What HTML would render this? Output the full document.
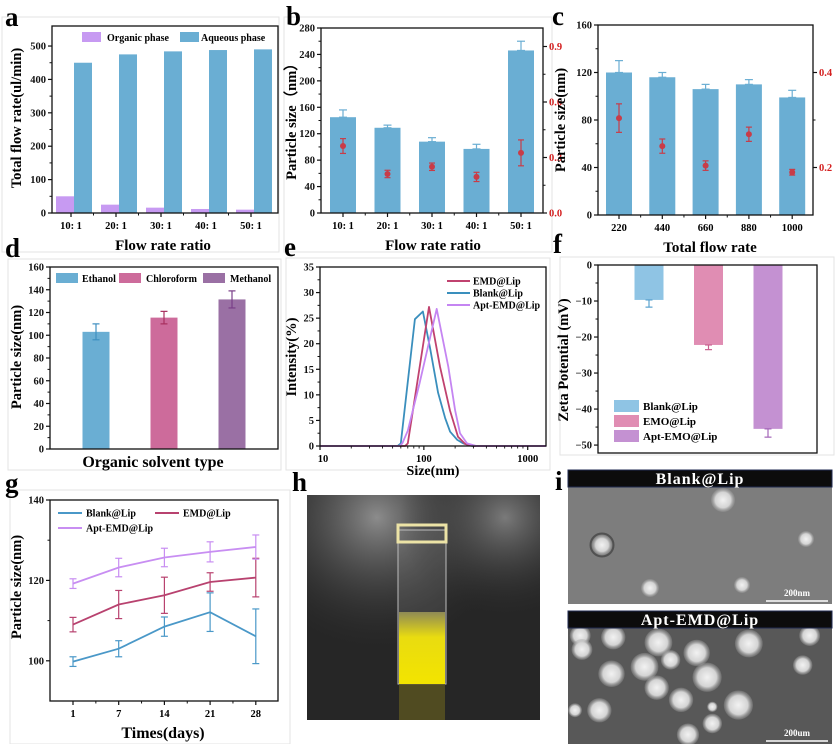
<!DOCTYPE html>
<html><head><meta charset="utf-8">
<style>
html,body{margin:0;padding:0;background:#fff;}
svg{display:block;}
.t{font-family:"Liberation Serif",serif;font-weight:bold;}
</style></head>
<body>
<svg id="fig" width="835" height="744" viewBox="0 0 835 744" xmlns="http://www.w3.org/2000/svg">
<defs>
<radialGradient id="pg" cx="50%" cy="50%" r="50%"><stop offset="0" stop-color="#f2f2f2"/><stop offset="0.65" stop-color="#d4d4d4"/><stop offset="1" stop-color="#a0a0a0" stop-opacity="0.3"/></radialGradient>
<radialGradient id="bgl" cx="30%" cy="10%" r="60%"><stop offset="0" stop-color="#8c8c8c"/><stop offset="1" stop-color="#2a2a2a" stop-opacity="0"/></radialGradient>
<radialGradient id="bgr" cx="85%" cy="10%" r="45%"><stop offset="0" stop-color="#7a7a7a"/><stop offset="1" stop-color="#2a2a2a" stop-opacity="0"/></radialGradient>
<linearGradient id="liq" x1="0" y1="0" x2="0" y2="1"><stop offset="0" stop-color="#8f8a55"/><stop offset="0.35" stop-color="#e9dc10"/><stop offset="1" stop-color="#f3e400"/></linearGradient>
</defs>
</svg>
<script>
// ---------- data ----------
const aCats=['10: 1','20: 1','30: 1','40: 1','50: 1'];
const aOrganic=[50,25,16,12,10];
const aAqueous=[450,475,484,488,490];
const aTicks=[0,100,200,300,400,500];

const bCats=['10: 1','20: 1','30: 1','40: 1','50: 1'];
const bSize=[145,129,108,97,246];
const bSizeErr=[11,4,6,7,14];
const bPdi=[0.362,0.211,0.25,0.195,0.325];
const bPdiErr=[0.04,0.02,0.02,0.025,0.07];
const bTicks=[0,40,80,120,160,200,240,280];
const bRTicks=[0,0.3,0.6,0.9];

const cCats=['220','440','660','880','1000'];
const cSize=[120,116,106,110,99];
const cSizeErr=[10,4,4,4,6];
const cPdi=[0.304,0.245,0.204,0.27,0.19];
const cPdiErr=[0.03,0.015,0.01,0.015,0.006];
const cTicks=[0,40,80,120,160];
const cRTicks=[0.2,0.4];

const dCats=['Ethanol','Chloroform','Methanol'];
const dVals=[103,115.5,131.5];
const dErr=[7,5.5,7.5];
const dTicks=[0,20,40,60,80,100,120,140,160];

const eBlankSize=[10,56,60,82,98,115,137,160,179,210,239,290,1500];
const eBlankInt=[0,0,0.5,24.8,26.3,19,10.4,5.5,2.8,1.2,0.5,0,0];
const eEmdSize=[10,66,70,112,143,178,213,250,300,1500];
const eEmdInt=[0,0,0.5,27.2,15.5,7,1.8,0.4,0,0];
const eAptSize=[10,58,62,70,91,133,172,200,223,260,320,1500];
const eAptInt=[0,0,0.5,3,12.3,26.8,15.5,7,2.5,0.5,0,0];
const eXTicks=[10,100,1000];
const eYTicks=[0,5,10,15,20,25,30,35];

const fCats=['Blank@Lip','EMO@Lip','Apt-EMO@Lip'];
const fVals=[-9.7,-22.2,-45.5];
const fErr=[2,1.3,2.3];
const fTicks=[0,-10,-20,-30,-40,-50];

const gDays=['1','7','14','21','28'];
const gBlank=[99.8,103,108.5,112.1,106.1];
const gBlankErr=[1.2,2,2.4,4.8,6.8];
const gEmd=[109,114,116.3,119.6,120.7];
const gEmdErr=[1.8,3.5,4.5,2.3,4.8];
const gApt=[119.2,123.2,125.7,127.1,128.3];
const gAptErr=[1.2,2.3,2.3,2.5,3];
const gTicks=[100,120,140];

// ---------- helpers ----------
const NS='http://www.w3.org/2000/svg';
const svg=document.getElementById('fig');
function mk(tag,attrs,parent){const e=document.createElementNS(NS,tag);for(const k in attrs)e.setAttribute(k,attrs[k]);(parent||svg).appendChild(e);return e;}
function txt(x,y,s,attrs){const e=mk('text',Object.assign({x:x,y:y,'class':'t'},attrs||{}));e.textContent=s;return e;}
function lin(d0,d1,r0,r1){return v=>r0+(v-d0)/(d1-d0)*(r1-r0);}
function frame(x0,y0,x1,y1,name){
  const r=mk('rect',{x:x0,y:y0,width:x1-x0,height:y1-y0,fill:'none',stroke:'#111','stroke-width':1.3});
  
  
}
function box(x0,y0,x1,y1,name){
  const r=mk('rect',{x:x0,y:y0,width:x1-x0,height:y1-y0,fill:'none',stroke:'#e3e3e3','stroke-width':1});
  
  
}
function yAxis(x,scale,ticks,fmt,side,color,name){
  const dir=side==='left'?-1:1;
  ticks.forEach((v,i)=>{
    const y=scale(v);
    mk('line',{x1:x,x2:x+dir*4,y1:y,y2:y,stroke:'#111','stroke-width':1.2});
    if(i<ticks.length-1){const ym=(y+scale(ticks[i+1]))/2;mk('line',{x1:x,x2:x+dir*2.5,y1:ym,y2:ym,stroke:'#111','stroke-width':1});}
    const t=txt(x+dir*6,y+3.5,fmt(v),{'font-size':10.5,fill:color,'text-anchor':side==='left'?'end':'start'});
    
    
  });
}
function xCat(y,xs,labels,name,size){
  xs.forEach((x,i)=>{
    mk('line',{x1:x,x2:x,y1:y,y2:y+4,stroke:'#111','stroke-width':1.2});
    if(i<xs.length-1){const xm=(x+xs[i+1])/2;mk('line',{x1:xm,x2:xm,y1:y,y2:y+2.5,stroke:'#111','stroke-width':1});}
    const t=txt(x,y+16,labels[i],{'font-size':size||10.5,'text-anchor':'middle'});
    
    
  });
}
function ylabel(x,y,s,name,size){
  const t=txt(x,y,s,{'font-size':size||14,'text-anchor':'middle',transform:'rotate(-90 '+x+' '+y+')'});
  
  
}
function xlabel(x,y,s,name,size){
  const t=txt(x,y,s,{'font-size':size||15,'text-anchor':'middle'});
  
  
}
function letter(x,y,s){
  const t=txt(x,y,s,{'font-size':27});
  
  
}
function errbar(x,y0,y1,color,w){
  mk('line',{x1:x,x2:x,y1:y0,y2:y1,stroke:color,'stroke-width':1.2});
  mk('line',{x1:x-w/2,x2:x+w/2,y1:y0,y2:y0,stroke:color,'stroke-width':1.2});
  mk('line',{x1:x-w/2,x2:x+w/2,y1:y1,y2:y1,stroke:color,'stroke-width':1.2});
}

// panel boxes
box(2,17,279,252,'panel-a-box');box(284,17,552,252,'panel-b-box');
box(8,259,281,470,'panel-d-box');box(286,258,550,470,'panel-e-box');
box(560,257,834,455,'panel-f-box');box(10,490,290,744,'panel-g-box');

// ---------- panel a ----------
letter(5,26,'a');
const ya=lin(0,560,213,26);
aCats.forEach((c,i)=>{
  const g=74+45*i;
  const o=mk('rect',{x:g-18,y:ya(aOrganic[i]),width:18,height:213-ya(aOrganic[i]),fill:'#c79af2'});
  
  
  const q=mk('rect',{x:g,y:ya(aAqueous[i]),width:18,height:213-ya(aAqueous[i]),fill:'#6aaed3'});
  
  
});
frame(52,26,278,213,'panel-a-frame');
yAxis(52,ya,aTicks,v=>String(v),'left','#111','panel-a-y');
xCat(213,aCats.map((c,i)=>71+45*i),aCats,'panel-a-x');
ylabel(21,118,'Total flow rate(ul/min)','panel-a-y-title',14.5);
xlabel(163,250,'Flow rate ratio','panel-a-x-title');
{const s1=mk('rect',{x:82,y:32,width:19,height:10,fill:'#c79af2'});


const l1=txt(107,41,'Organic phase',{'font-size':10});


const s2=mk('rect',{x:180,y:32,width:19,height:10,fill:'#6aaed3'});


const l2=txt(201,41,'Aqueous phase',{'font-size':10});

}

// ---------- panel b ----------
letter(286,25,'b');
const yb=lin(0,280,213,28);
const ybr=lin(0,1,213,28);
bCats.forEach((c,i)=>{
  const x=343+44.5*i;
  const r=mk('rect',{x:x-13,y:yb(bSize[i]),width:26,height:213-yb(bSize[i]),fill:'#6aaed3'});
  
  
  errbar(x,yb(bSize[i]+bSizeErr[i]),yb(bSize[i]),'#6aaed3',8);
  errbar(x,ybr(bPdi[i]+bPdiErr[i]),ybr(bPdi[i]-bPdiErr[i]),'#c83c48',6);
  const p=mk('circle',{cx:x,cy:ybr(bPdi[i]),r:3,fill:'#c83c48'});
  
  
});
frame(321,28,543,213,'panel-b-frame');
yAxis(321,yb,bTicks,v=>String(v),'left','#111','panel-b-y');
yAxis(543,ybr,bRTicks,v=>v.toFixed(1),'right','#d42020','panel-b-y2');
xCat(213,bCats.map((c,i)=>343+44.5*i),bCats,'panel-b-x');
ylabel(296,118,'Particle size（nm）','panel-b-y-title',14.5);
xlabel(433,250,'Flow rate ratio','panel-b-x-title');

// ---------- panel c ----------
letter(552,25,'c');
const yc=lin(0,160,215,25);
const ycr=lin(0.1,0.5,215,25);
cCats.forEach((c,i)=>{
  const x=619+43.3*i;
  const r=mk('rect',{x:x-13,y:yc(cSize[i]),width:26,height:215-yc(cSize[i]),fill:'#6aaed3'});
  
  
  errbar(x,yc(cSize[i]+cSizeErr[i]),yc(cSize[i]),'#6aaed3',8);
  errbar(x,ycr(cPdi[i]+cPdiErr[i]),ycr(cPdi[i]-cPdiErr[i]),'#c83c48',6);
  const p=mk('circle',{cx:x,cy:ycr(cPdi[i]),r:3,fill:'#c83c48'});
  
  
});
frame(598,25,813,215,'panel-c-frame');
yAxis(598,yc,cTicks,v=>String(v),'left','#111','panel-c-y');
yAxis(813,ycr,cRTicks,v=>v.toFixed(1),'right','#d42020','panel-c-y2');
xCat(215,cCats.map((c,i)=>619+43.3*i),cCats,'panel-c-x');
ylabel(565,120,'Particle size(nm)','panel-c-y-title',14.5);
xlabel(710,252,'Total flow rate','panel-c-x-title');

// ---------- panel d ----------
letter(5,257,'d');
const yd=lin(0,160,449,267);
const dCol=['#6aaed3','#cd6b9b','#9a70a4'];
const dErrCol=['#3f8fc0','#a8305f','#7a3f88'];
dCats.forEach((c,i)=>{
  const x=96+68*i;
  const r=mk('rect',{x:x-13.5,y:yd(dVals[i]),width:27,height:449-yd(dVals[i]),fill:dCol[i]});
  
  
  errbar(x,yd(dVals[i]+dErr[i]),yd(dVals[i]-dErr[i]),dErrCol[i],7);
  const s=mk('rect',{x:[56,119,203][i],y:273,width:22,height:10,fill:dCol[i]});
  
  
  const l=txt([82,146,230][i],282,c,{'font-size':10});
  
  
});
frame(50,267,278,449,'panel-d-frame');
yAxis(50,yd,dTicks,v=>String(v),'left','#111','panel-d-y');
ylabel(21,357,'Particle size(nm)','panel-d-y-title',14.5);
xlabel(153,467,'Organic solvent type','panel-d-x-title',16);

// ---------- panel e ----------
letter(284,256,'e');
const xe=v=>320+(Math.log10(v)-1)/(Math.log10(1500)-1)*226;
const ye=lin(0,35,446,267);
function curve(sz,it,col,name){
  const pts=sz.map((s,i)=>xe(s).toFixed(1)+','+ye(it[i]).toFixed(1)).join(' ');
  const pl=mk('polyline',{points:pts,fill:'none',stroke:col,'stroke-width':1.8,'stroke-linejoin':'round'});
  
  
}
curve(eBlankSize,eBlankInt,'#3a8fbd','curve-blank-lip');
curve(eEmdSize,eEmdInt,'#c0426f','curve-emd-lip');
curve(eAptSize,eAptInt,'#c585f2','curve-apt-emd-lip');
frame(320,267,546,446,'panel-e-frame');
yAxis(320,ye,eYTicks,v=>String(v),'left','#111','panel-e-y');
eXTicks.forEach(v=>{
  const x=xe(v);
  mk('line',{x1:x,x2:x,y1:446,y2:450,stroke:'#111','stroke-width':1.2});
  const t=txt(v===10?x+3:x,462,String(v),{'font-size':10.5,'text-anchor':'middle'});
  
  
  for(let k=2;k<10;k++){const xm=xe(v*k);if(xm<546)mk('line',{x1:xm,x2:xm,y1:446,y2:448.5,stroke:'#111','stroke-width':0.9});}
});
ylabel(296,357,'Intensity(%)','panel-e-y-title',14.5);
xlabel(433,475,'Size(nm)','panel-e-x-title',14);
[['EMD@Lip','#c0426f',281],['Blank@Lip','#3a8fbd',293],['Apt-EMD@Lip','#c585f2',305]].forEach(([n,c,y],i)=>{
  const ln=mk('line',{x1:447,x2:470,y1:y,y2:y,stroke:c,'stroke-width':2});
  
  
  const t=txt(473,y+3.5,n,{'font-size':10});
  
  
});

// ---------- panel f ----------
letter(553,253,'f');
const yf=lin(0,-52.2,265,453);
const fCol=['#8fc4e4','#e08db3','#c491d2'];
const fErrCol=['#5aa2cf','#c9608f','#a365b8'];
fCats.forEach((c,i)=>{
  const x=649+59.5*i;
  const r=mk('rect',{x:x-14.5,y:265,width:29,height:yf(fVals[i])-265,fill:fCol[i]});
  
  
  errbar(x,yf(fVals[i]),yf(fVals[i]-fErr[i]),fErrCol[i],7);
  const s=mk('rect',{x:614,y:400+15*i,width:25,height:12,fill:fCol[i]});
  
  
  const l=txt(643,410+15*i,c,{'font-size':11});
  
  
});
frame(598,265,817,453,'panel-f-frame');
yAxis(598,yf,fTicks,v=>v===0?'0':'−'+Math.abs(v),'left','#111','panel-f-y');
ylabel(568,360,'Zeta Potential (mV)','panel-f-y-title',14.5);

// ---------- panel g ----------
letter(5,492,'g');
const yg=lin(90,140,701,500);
const xg=i=>73+45.7*i;
function gSeries(vals,errs,col,name){
  vals.forEach((v,i)=>errbar(xg(i),yg(v+errs[i]),yg(v-errs[i]),col,7));
  const pts=vals.map((v,i)=>xg(i).toFixed(1)+','+yg(v).toFixed(1)).join(' ');
  const pl=mk('polyline',{points:pts,fill:'none',stroke:col,'stroke-width':1.8});
  
  
}
gSeries(gBlank,gBlankErr,'#4a98c8','line-blank-lip');
gSeries(gEmd,gEmdErr,'#b8426f','line-emd-lip');
gSeries(gApt,gAptErr,'#c88ef2','line-apt-emd-lip');
frame(50,500,278,701,'panel-g-frame');
yAxis(50,yg,gTicks,v=>String(v),'left','#111','panel-g-y');
xCat(701,gDays.map((d,i)=>xg(i)),gDays,'panel-g-x');
ylabel(21,587,'Particle size(nm)','panel-g-y-title',14.5);
xlabel(163,738,'Times(days)','panel-g-x-title',16);
[['Blank@Lip','#4a98c8',58,513],['EMD@Lip','#b8426f',155,513],['Apt-EMD@Lip','#c88ef2',58,528]].forEach(([n,c,x,y],i)=>{
  const ln=mk('line',{x1:x,x2:x+24,y1:y,y2:y,stroke:c,'stroke-width':2});
  
  
  const t=txt(x+28,y+3.5,n,{'font-size':10});
  
  
});

// ---------- panel h (photo) ----------
letter(292,491,'h');
{const ph=mk('rect',{x:307,y:495,width:233,height:225,fill:'#262626'});


mk('rect',{x:307,y:495,width:233,height:225,fill:'url(#bgl)'});
mk('rect',{x:307,y:495,width:233,height:225,fill:'url(#bgr)'});
const body=mk('rect',{x:398,y:530,width:48,height:154,fill:'#9a9a9a','fill-opacity':0.18,stroke:'#bdbdbd','stroke-width':1});


const liq=mk('rect',{x:399,y:612,width:46,height:72,fill:'url(#liq)'});


mk('rect',{x:399,y:684,width:46,height:36,fill:'#5b5520',opacity:0.8});
const rim=mk('rect',{x:398,y:525,width:48,height:17,fill:'none',stroke:'#ece3a6','stroke-width':3});

}

// ---------- panel i (TEM) ----------
letter(555,490,'i');
function tem(y0,h,title,bg,parts,scaleLabel,name){
  const r=mk('rect',{x:568,y:y0,width:264,height:h,fill:bg});
  
  
  parts.forEach(p=>mk('circle',{cx:p[0],cy:p[1],r:p[2],fill:'url(#pg)'}));
  const hd=mk('rect',{x:568,y:y0,width:264,height:17,fill:'#0c0c0c',stroke:'#1f2a50','stroke-width':1});
  
  
  const t=txt(700,y0+14,title,{'font-size':16,fill:'#fff','text-anchor':'middle','letter-spacing':'1'});
  
  
  const s=txt(797,y0+h-8,scaleLabel,{'font-size':9,fill:'#fff','text-anchor':'middle'});
  
  
  mk('line',{x1:766,x2:828,y1:y0+h-3,y2:y0+h-3,stroke:'#fff','stroke-width':1.5});
}
const p2=(x,y,r)=>[290+x/2.877,460+y/2.877,r/2.877];
tem(470,134,'Blank@Lip','#7d7d7d',[[723,500,12],[602,545,10],[806,539,8],[650,588,9],[742,585,8]],'200nm','tem-blank-lip');
mk('circle',{cx:602,cy:545,r:11.5,fill:'none',stroke:'#333','stroke-width':2,opacity:0.6});
tem(611,133,'Apt-EMD@Lip','#585858',[
 p2(835,505,30),p2(930,510,35),p2(840,545,30),p2(1060,525,40),p2(1170,555,38),p2(1095,575,28),
 p2(1320,528,40),p2(1495,505,30),p2(1475,590,28),p2(1020,595,40),p2(925,615,38),p2(1200,625,42),
 p2(1055,655,35),p2(1125,690,35),p2(1290,705,42),p2(890,720,35),p2(820,720,20),p2(1215,710,15),
 p2(1215,758,28),p2(1145,790,32)],'200um','tem-apt-emd-lip');
</script>
</body></html>
